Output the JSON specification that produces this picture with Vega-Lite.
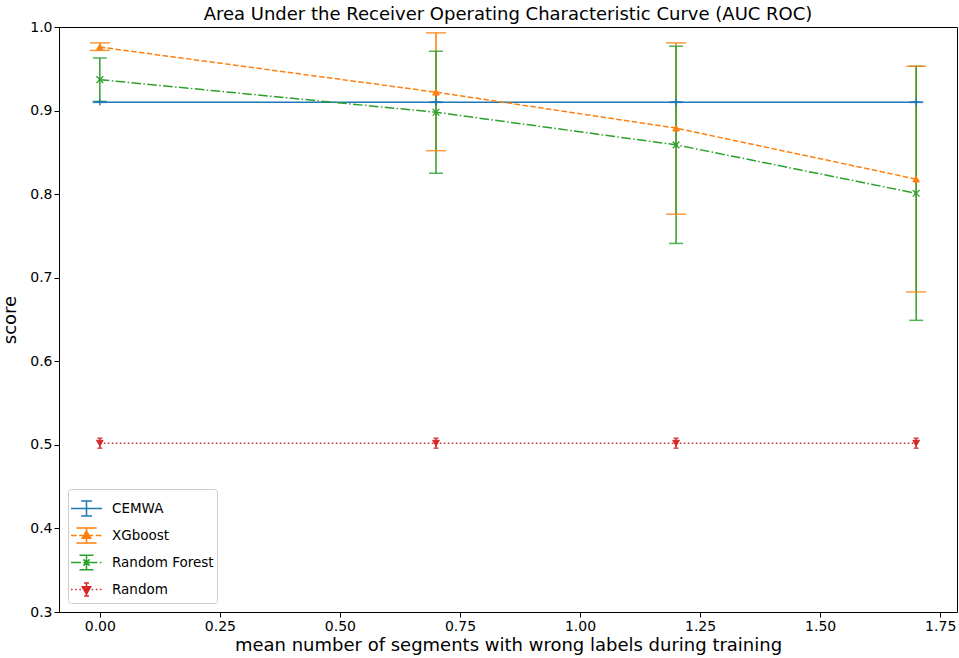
{
  "$schema": "https://vega.github.io/schema/vega-lite/v6.json",
  "autosize": {"type": "none"},
  "width": 898,
  "height": 585,
  "padding": {"left": 59, "top": 27, "right": 2, "bottom": 46},
  "background": "white",
  "title": {"text": "Area Under the Receiver Operating Characteristic Curve (AUC ROC)", "font": "DejaVu Sans", "fontSize": 18, "fontWeight": "normal", "color": "black", "offset": -4},
  "config": {
    "view": {"stroke": "black", "strokeWidth": 1},
    "font": "DejaVu Sans",
    "axis": {"grid": false, "domain": false, "tickColor": "black", "labelColor": "black", "labelFont": "DejaVu Sans", "labelFontSize": 14, "titleFont": "DejaVu Sans", "titleFontSize": 18, "titleFontWeight": "normal", "titleColor": "black", "tickSize": 5}
  },
  "data": {"values": [
    {"model": "CEMWA", "x": 0.0, "y": 0.910, "lo": 0.9098, "hi": 0.9102},
    {"model": "CEMWA", "x": 0.7, "y": 0.910, "lo": 0.9098, "hi": 0.9102},
    {"model": "CEMWA", "x": 1.2, "y": 0.910, "lo": 0.9098, "hi": 0.9102},
    {"model": "CEMWA", "x": 1.7, "y": 0.910, "lo": 0.9098, "hi": 0.9102},
    {"model": "XGboost", "x": 0.0, "y": 0.976, "lo": 0.972, "hi": 0.981},
    {"model": "XGboost", "x": 0.7, "y": 0.922, "lo": 0.852, "hi": 0.993},
    {"model": "XGboost", "x": 1.2, "y": 0.879, "lo": 0.776, "hi": 0.981},
    {"model": "XGboost", "x": 1.7, "y": 0.818, "lo": 0.683, "hi": 0.953},
    {"model": "Random Forest", "x": 0.0, "y": 0.937, "lo": 0.911, "hi": 0.963},
    {"model": "Random Forest", "x": 0.7, "y": 0.898, "lo": 0.825, "hi": 0.971},
    {"model": "Random Forest", "x": 1.2, "y": 0.859, "lo": 0.741, "hi": 0.977},
    {"model": "Random Forest", "x": 1.7, "y": 0.801, "lo": 0.649, "hi": 0.953},
    {"model": "Random", "x": 0.0, "y": 0.502, "lo": 0.496, "hi": 0.508},
    {"model": "Random", "x": 0.7, "y": 0.502, "lo": 0.496, "hi": 0.508},
    {"model": "Random", "x": 1.2, "y": 0.502, "lo": 0.496, "hi": 0.508},
    {"model": "Random", "x": 1.7, "y": 0.502, "lo": 0.496, "hi": 0.508}
  ]},
  "encoding": {
    "x": {"field": "x", "type": "quantitative", "scale": {"domain": [-0.085, 1.785], "nice": false, "zero": false}, "axis": {"values": [0, 0.25, 0.5, 0.75, 1.0, 1.25, 1.5, 1.75], "format": ".2f", "title": "mean number of segments with wrong labels during training", "titlePadding": 3}},
    "color": {"field": "model", "type": "nominal", "scale": {"domain": ["CEMWA", "XGboost", "Random Forest", "Random"], "range": ["#1f77b4", "#ff7f0e", "#2ca02c", "#d62728"]},
      "legend": {"title": null, "orient": "bottom-left", "offset": 9, "padding": 3, "strokeColor": "#cccccc", "fillColor": "white", "cornerRadius": 3, "labelFontSize": 13.5, "labelFont": "DejaVu Sans", "labelColor": "black", "symbolSize": 961, "symbolStrokeWidth": 1.5, "rowPadding": -11.5, "labelOffset": 9, "symbolOffset": -1,
        "encode": {"symbols": {"update": {
          "shape": {"signal": "datum.value === 'CEMWA' ? 'M-1,0L1,0M0,-0.48L0,0.48M-0.35,-0.48L0.35,-0.48M-0.35,0.48L0.35,0.48' : datum.value === 'XGboost' ? 'M-1,0L-0.63,0M-0.47,0L-0.1,0M0.06,0L0.43,0M0.59,0L0.96,0M0,-0.48L0,0.48M-0.65,-0.48L0.65,-0.48M-0.65,0.48L0.65,0.48M0,-0.3L0.27,0.17L-0.27,0.17Z' : datum.value === 'Random Forest' ? 'M-1,0L-0.36,0M-0.2,0L-0.1,0M0.06,0L0.7,0M0.86,0L0.96,0M0,-0.46L0,0.46M-0.45,-0.46L0.45,-0.46M-0.45,0.46L0.45,0.46M-0.2,-0.2L0.2,0.2M-0.2,0.2L0.2,-0.2' : 'M-1,0L-0.9,0M-0.733,0L-0.633,0M-0.467,0L-0.367,0M-0.2,0L-0.1,0M0.067,0L0.167,0M0.333,0L0.433,0M0.6,0L0.7,0M0.867,0L0.967,0M0,-0.42L0,0.42M-0.16,-0.42L0.16,-0.42M-0.16,0.42L0.16,0.42M0,0.3L0.27,-0.17L-0.27,-0.17Z'"},
          "size": {"value": 961},
          "stroke": {"signal": "scale('color', datum.value)"},
          "fill": {"signal": "scale('color', datum.value)"},
          "strokeWidth": {"value": 1.5},
          "strokeDash": {"value": []},
          "opacity": {"value": 1},
          "fillOpacity": {"value": 1},
          "strokeOpacity": {"value": 1}
        }}}}}
  },
  "layer": [
    {"mark": {"type": "rule", "strokeWidth": 1.5},
     "encoding": {"y": {"field": "lo", "type": "quantitative", "scale": {"domain": [0.3, 1.0], "nice": false, "zero": false}, "axis": {"values": [0.3, 0.4, 0.5, 0.6, 0.7, 0.8, 0.9, 1.0], "format": ".1f", "title": "score", "titlePadding": 10}}, "y2": {"field": "hi"}}},
    {"transform": [{"filter": "datum.model === 'CEMWA' || datum.model === 'Random Forest'"}],
     "layer": [
       {"mark": {"type": "tick", "orient": "horizontal", "thickness": 1.5, "opacity": 0.8, "size": 14}, "encoding": {"y": {"field": "lo", "type": "quantitative"}}},
       {"mark": {"type": "tick", "orient": "horizontal", "thickness": 1.5, "opacity": 0.8, "size": 14}, "encoding": {"y": {"field": "hi", "type": "quantitative"}}}
     ]},
    {"transform": [{"filter": "datum.model === 'XGboost'"}],
     "layer": [
       {"mark": {"type": "tick", "orient": "horizontal", "thickness": 1.5, "opacity": 0.8, "size": 20}, "encoding": {"y": {"field": "lo", "type": "quantitative"}}},
       {"mark": {"type": "tick", "orient": "horizontal", "thickness": 1.5, "opacity": 0.8, "size": 20}, "encoding": {"y": {"field": "hi", "type": "quantitative"}}}
     ]},
    {"transform": [{"filter": "datum.model === 'Random'"}],
     "layer": [
       {"mark": {"type": "tick", "orient": "horizontal", "thickness": 1.5, "opacity": 0.8, "size": 5}, "encoding": {"y": {"field": "lo", "type": "quantitative"}}},
       {"mark": {"type": "tick", "orient": "horizontal", "thickness": 1.5, "opacity": 0.8, "size": 5}, "encoding": {"y": {"field": "hi", "type": "quantitative"}}}
     ]},
    {"transform": [{"filter": "datum.model === 'CEMWA'"}],
     "layer": [
       {"mark": {"type": "line", "strokeWidth": 1.5}, "encoding": {"y": {"field": "y", "type": "quantitative"}}},
       {"mark": {"type": "point", "filled": true, "size": 45, "strokeWidth": 1.3, "opacity": 1, "shape": "M-1,0L1,0M0,-1L0,1", "stroke": "#1f77b4"}, "encoding": {"y": {"field": "y", "type": "quantitative"}}}
     ]},
    {"transform": [{"filter": "datum.model === 'XGboost'"}],
     "layer": [
       {"mark": {"type": "line", "strokeWidth": 1.5, "strokeDash": [5.5, 2.4]}, "encoding": {"y": {"field": "y", "type": "quantitative"}}},
       {"mark": {"type": "point", "filled": true, "size": 45, "strokeWidth": 1, "opacity": 1, "shape": "triangle-up", "stroke": "#ff7f0e"}, "encoding": {"y": {"field": "y", "type": "quantitative"}}}
     ]},
    {"transform": [{"filter": "datum.model === 'Random Forest'"}],
     "layer": [
       {"mark": {"type": "line", "strokeWidth": 1.5, "strokeDash": [9.6, 2.4, 1.5, 2.4]}, "encoding": {"y": {"field": "y", "type": "quantitative"}}},
       {"mark": {"type": "point", "filled": true, "size": 45, "strokeWidth": 1.3, "opacity": 1, "shape": "M-1,-1L1,1M-1,1L1,-1", "stroke": "#2ca02c"}, "encoding": {"y": {"field": "y", "type": "quantitative"}}}
     ]},
    {"transform": [{"filter": "datum.model === 'Random'"}],
     "layer": [
       {"mark": {"type": "line", "strokeWidth": 1.5, "strokeDash": [1.5, 2.5]}, "encoding": {"y": {"field": "y", "type": "quantitative"}}},
       {"mark": {"type": "point", "filled": true, "size": 45, "strokeWidth": 1, "opacity": 1, "shape": "triangle-down", "stroke": "#d62728"}, "encoding": {"y": {"field": "y", "type": "quantitative"}}}
     ]}
  ]
}
